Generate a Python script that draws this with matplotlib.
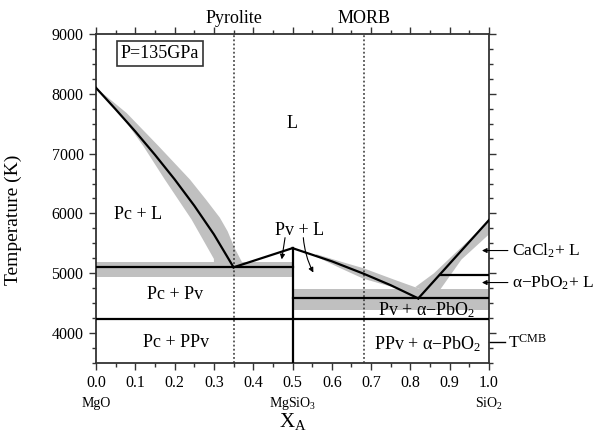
import numpy as np
import matplotlib
matplotlib.use("Agg")
import matplotlib.pyplot as plt
from matplotlib.ticker import MultipleLocator

plt.rcParams['font.family'] = ['Liberation Serif', 'DejaVu Serif']
plt.rcParams['mathtext.fontset'] = 'custom'
plt.rcParams['mathtext.rm'] = 'Liberation Serif'
plt.rcParams['mathtext.it'] = 'Liberation Serif:italic'

# liquidus / solidus lines (x = X_A, T in K)
liq_left_x = [0.0, 0.05, 0.10, 0.15, 0.20, 0.25, 0.30, 0.35]
liq_left_T = [8100, 7740, 7370, 6980, 6570, 6130, 5650, 5100]
pv_rise_x = [0.35, 0.50]
pv_rise_T = [5100, 5420]
pv_fall_x = [0.50, 0.60, 0.68, 0.75, 0.82]
pv_fall_T = [5420, 5200, 4995, 4800, 4580]
liq_right_x = [0.82, 1.0]
liq_right_T = [4580, 5890]

eut_left_T = 5100
eut_right_T = 4580
ppv_T = 4230
caCl2_T = 4970
caCl2_x0 = 0.875
t_cmb = 3845

# uncertainty bands (polygons)
band_left_x = [0.0, 0.078, 0.16, 0.239, 0.28, 0.315, 0.335, 0.352, 0.372,
               0.30, 0.30, 0.243, 0.175, 0.12, 0.06, 0.0]
band_left_T = [8100, 7678, 7120, 6567, 6230, 5930, 5700, 5430, 5180,
               5180, 5240, 5900, 6567, 7130, 7678, 8100]
band_hl_x = [0.0, 0.5, 0.5, 0.0]
band_hl_T = [5180, 5180, 4945, 4945]
band_hr_x = [0.5, 1.0, 1.0, 0.5]
band_hr_T = [4730, 4730, 4390, 4390]
band_fall_x = [0.56, 0.62, 0.68, 0.76, 0.812, 0.83, 0.78, 0.68, 0.62, 0.56]
band_fall_T = [5320, 5200, 5085, 4890, 4767, 4720, 4720, 4910, 5090, 5280]
band_right_x = [0.812, 0.86, 0.90, 0.95, 1.0, 1.0, 0.93, 0.875, 0.83]
band_right_T = [4767, 5000, 5250, 5560, 5880, 5650, 5230, 4720, 4720]

pyrolite_x = 0.35
morb_x = 0.682

grey = '#c0c0c0'
fig = plt.figure(figsize=(5.96, 4.34), dpi=100)
ax = fig.add_axes([0.1611, 0.1636, 0.6594, 0.7581])

for bx, bt in [(band_left_x, band_left_T), (band_hl_x, band_hl_T), (band_hr_x, band_hr_T),
               (band_fall_x, band_fall_T), (band_right_x, band_right_T)]:
    ax.fill(bx, bt, color=grey, lw=0, zorder=1)

lw = 1.6
ax.plot(liq_left_x, liq_left_T, color='k', lw=lw, zorder=3)
ax.plot(pv_rise_x, pv_rise_T, color='k', lw=lw, zorder=3)
ax.plot(pv_fall_x, pv_fall_T, color='k', lw=lw, zorder=3)
ax.plot(liq_right_x, liq_right_T, color='k', lw=lw, zorder=3)
ax.plot([0, 0.5], [eut_left_T, eut_left_T], color='k', lw=lw, zorder=3)
ax.plot([0.5, 1.0], [eut_right_T, eut_right_T], color='k', lw=lw, zorder=3)
ax.plot([0, 1.0], [ppv_T, ppv_T], color='k', lw=lw, zorder=3)
ax.plot([caCl2_x0, 1.0], [caCl2_T, caCl2_T], color='k', lw=lw, zorder=3)
ax.plot([0.5, 0.5], [3500, pv_rise_T[1]], color='k', lw=lw, zorder=3)

ax.axvline(pyrolite_x, color='#333333', ls=(0, (1.2, 1.5)), lw=1.1, zorder=2)
ax.axvline(morb_x, color='#333333', ls=(0, (1.2, 1.5)), lw=1.1, zorder=2)

ax.set_xlim(0, 1)
ax.set_ylim(3500, 9000)
ax.xaxis.set_major_locator(MultipleLocator(0.1))
ax.xaxis.set_minor_locator(MultipleLocator(0.05))
ax.yaxis.set_major_locator(MultipleLocator(1000))
ax.yaxis.set_minor_locator(MultipleLocator(250))
ax.tick_params(which='both', direction='out', top=True, right=True, width=1, color='#333333')
ax.tick_params(which='major', length=5, pad=4, labelsize=11.5)
ax.tick_params(which='minor', length=3)
ax.xaxis.set_major_formatter(matplotlib.ticker.FormatStrFormatter('%.1f'))
for s in ax.spines.values():
    s.set_linewidth(1.3)
    s.set_color('#333333')

ax.set_ylabel('Temperature (K)', fontsize=14)
ax.yaxis.set_label_coords(-0.188, 0.435)

fs = 13
ax.text(0.163, 8675, 'P=135GPa', fontsize=fs, ha='center', va='center',
        bbox=dict(boxstyle='square,pad=0.2', fc='white', ec='#333333', lw=1.2))
ax.text(0.499, 7500, 'L', fontsize=fs, ha='center', va='center')
ax.text(0.106, 5975, 'Pc + L', fontsize=fs, ha='center', va='center')
ax.text(0.519, 5717, 'Pv + L', fontsize=fs, ha='center', va='center')
ax.text(0.201, 4650, 'Pc + Pv', fontsize=fs, ha='center', va='center')
ax.text(0.203, 3850, 'Pc + PPv', fontsize=fs, ha='center', va='center')
ax.text(0.841, 4383, 'Pv + α−PbO$_2$', fontsize=fs, ha='center', va='center', zorder=4)
ax.text(0.845, 3808, 'PPv + α−PbO$_2$', fontsize=fs, ha='center', va='center')

ap = dict(arrowstyle='-|>', color='k', lw=0.8, mutation_scale=7, shrinkA=0, shrinkB=0)
ax.annotate('', xy=(0.4725, 5233), xytext=(0.481, 5595), arrowprops=ap)
ax.annotate('', xy=(0.553, 5012), xytext=(0.5275, 5595),
            arrowprops=dict(ap, connectionstyle='arc3,rad=0.1'))

ax.annotate('', xy=(0.982, 5380), xytext=(1.048, 5380), arrowprops=ap, annotation_clip=False)
ax.annotate('', xy=(0.982, 4845), xytext=(1.048, 4845), arrowprops=ap, annotation_clip=False)
ax.text(1.0585, 5380, 'CaCl$_2$+ L', fontsize=12.5, ha='left', va='center', clip_on=False)
ax.text(1.0585, 4845, 'α−PbO$_2$+ L', fontsize=12.5, ha='left', va='center', clip_on=False)
ax.plot([1.0, 1.041], [t_cmb, t_cmb], color='k', lw=1, clip_on=False)
ax.text(1.048, t_cmb, 'T$^{\\rm CMB}$', fontsize=12.5, ha='left', va='center', clip_on=False)

ax.text(pyrolite_x, 9267, 'Pyrolite', fontsize=13, ha='center', va='center', clip_on=False)
ax.text(morb_x, 9267, 'MORB', fontsize=13, ha='center', va='center', clip_on=False)

ax.text(0.0, 2817, 'MgO', fontsize=10, ha='center', va='center', clip_on=False)
ax.text(0.5, 2817, 'MgSiO$_3$', fontsize=10, ha='center', va='center', clip_on=False)
ax.text(1.0, 2817, 'SiO$_2$', fontsize=10, ha='center', va='center', clip_on=False)
ax.text(0.5, 2517, 'X$_{\\rm A}$', fontsize=15, ha='center', va='center', clip_on=False)

fig.savefig('out.png', dpi=100)
